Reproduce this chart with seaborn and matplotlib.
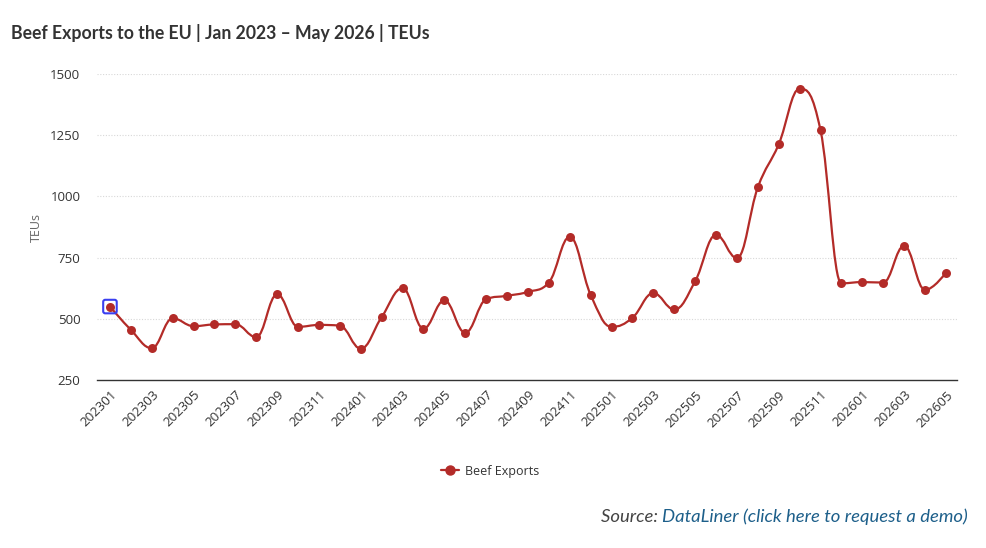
import numpy as np
import pandas as pd
import matplotlib
matplotlib.use("Agg")
import matplotlib.pyplot as plt
import seaborn as sns
from matplotlib.path import Path
from matplotlib.patches import PathPatch
from matplotlib.lines import Line2D

months = [f"{y}{m:02d}" for y in (2023, 2024, 2025, 2026) for m in range(1, 13)][:41]
values = [550, 455, 380, 502, 470, 477, 478, 425, 600, 467, 475, 472,
          378, 507, 625, 460, 575, 443, 580, 594, 610, 648, 835, 598,
          467, 504, 605, 538, 653, 843, 748, 1037, 1213, 1440, 1270, 645,
          650, 648, 798, 618, 688]
series_name = "Beef Exports"
title = "Beef Exports to the EU | Jan 2023 \u2013 May 2026 | TEUs"
y_ticks = [250, 500, 750, 1000, 1250, 1500]

LINE = "#b32b28"
TXT = "#333333"

df = pd.DataFrame({"month": months, "value": values})
df["idx"] = np.arange(len(df))

sns.set_theme(style="white")
plt.rcParams["font.family"] = ["Open Sans", "DejaVu Sans"]

fig = plt.figure(figsize=(9.86, 5.48), dpi=100)
ax = fig.add_axes([97 / 986, 1 - 380 / 548, (957 - 97) / 986, (380 - 74) / 548])


def spline_path(xs, ys, smoothing=1.5):
    denom = smoothing + 1
    n = len(xs)
    lc = [None] * n
    rc = [None] * n
    for i in range(1, n - 1):
        px, py = xs[i], ys[i]
        lx, ly = xs[i - 1], ys[i - 1]
        nx, ny = xs[i + 1], ys[i + 1]
        lcx = (smoothing * px + lx) / denom
        lcy = (smoothing * py + ly) / denom
        rcx = (smoothing * px + nx) / denom
        rcy = (smoothing * py + ny) / denom
        if rcx != lcx:
            corr = ((rcy - lcy) * (rcx - px)) / (rcx - lcx) + py - rcy
            lcy += corr
            rcy += corr
        if lcy > ly and lcy > py:
            lcy = max(ly, py); rcy = 2 * py - lcy
        elif lcy < ly and lcy < py:
            lcy = min(ly, py); rcy = 2 * py - lcy
        if rcy > ny and rcy > py:
            rcy = max(ny, py); lcy = 2 * py - rcy
        elif rcy < ny and rcy < py:
            rcy = min(ny, py); lcy = 2 * py - rcy
        lc[i] = (lcx, lcy)
        rc[i] = (rcx, rcy)
    verts = [(xs[0], ys[0])]
    codes = [Path.MOVETO]
    for i in range(1, n):
        c1 = rc[i - 1] if rc[i - 1] is not None else (xs[i - 1], ys[i - 1])
        c2 = lc[i] if lc[i] is not None else (xs[i], ys[i])
        verts += [c1, c2, (xs[i], ys[i])]
        codes += [Path.CURVE4] * 3
    return Path(verts, codes)


path = spline_path(df["idx"].astype(float).tolist(), df["value"].astype(float).tolist())
ax.add_patch(PathPatch(path, facecolor="none", edgecolor=LINE, lw=1.6, zorder=3,
                       capstyle="round", joinstyle="round"))

sns.scatterplot(data=df, x="idx", y="value", ax=ax, color=LINE, s=42,
                edgecolor=LINE, linewidth=0, zorder=4, legend=False)

# highlighted first point (rounded square)
rsq = Path.unit_rectangle()
c = 0.3
rounded = Path([(-1 + c, -1), (1 - c, -1), (1, -1), (1, -1 + c), (1, 1 - c), (1, 1),
                (1 - c, 1), (-1 + c, 1), (-1, 1), (-1, 1 - c), (-1, -1 + c), (-1, -1),
                (-1 + c, -1), (-1 + c, -1)],
               [Path.MOVETO, Path.LINETO, Path.CURVE3, Path.CURVE3, Path.LINETO, Path.CURVE3,
                Path.CURVE3, Path.LINETO, Path.CURVE3, Path.CURVE3, Path.LINETO, Path.CURVE3,
                Path.CURVE3, Path.CLOSEPOLY])
ax.scatter(df["idx"].iloc[:1], df["value"].iloc[:1], marker=rounded, s=95,
           facecolor="none", edgecolor="#3a3ff0", linewidth=1.5, zorder=5)

ax.set_xlim(-0.62, 40.53)
ax.set_ylim(250, 1500)
ax.set_yticks(y_ticks)
ax.set_yticklabels([str(v) for v in y_ticks], fontsize=9.5, color=TXT)
ax.tick_params(axis="y", length=0, pad=12)
tick_idx = df["idx"].iloc[::2]
ax.set_xticks(tick_idx)
ax.set_xticklabels(df["month"].iloc[::2], rotation=45, ha="right",
                   rotation_mode="anchor", fontsize=9.5, color=TXT)
ax.tick_params(axis="x", length=0, pad=6)
ax.set_xlabel("")
ax.set_ylabel("TEUs", fontsize=9, color="#666666", labelpad=5)

for v in y_ticks[1:]:
    ax.axhline(v, color="#d8d8d8", lw=0.8, ls=(0, (1, 1.5)), zorder=1)
for s in ["top", "right", "left"]:
    ax.spines[s].set_visible(False)
ax.spines["bottom"].set_color("#333333")
ax.spines["bottom"].set_linewidth(1.0)

fig.text(11 / 986, 1 - 33 / 548, title, fontsize=12.7, fontweight="bold",
         color="#333333", family=["Lato", "DejaVu Sans"], va="center", ha="left")

handle = Line2D([0], [0], color=LINE, lw=1.6, marker="o", markersize=6.5)
fig.legend([handle], [series_name], loc="center", bbox_to_anchor=(490 / 986, 1 - 471 / 548),
           frameon=False, fontsize=9, handlelength=1.4, handletextpad=0.5,
           labelcolor=TXT)

src = fig.text(968 / 986, 1 - 517 / 548, "DataLiner (click here to request a demo)",
               fontsize=13.3, style="italic", color="#1d5f8a",
               family=["Lato", "DejaVu Sans"], ha="right", va="center")
ax.annotate("Source: ", xy=(0, 0.5), xycoords=src, fontsize=13.3, style="italic",
            color="#444444", family=["Lato", "DejaVu Sans"], ha="right", va="center",
            annotation_clip=False)

fig.savefig("out.png", dpi=100)
